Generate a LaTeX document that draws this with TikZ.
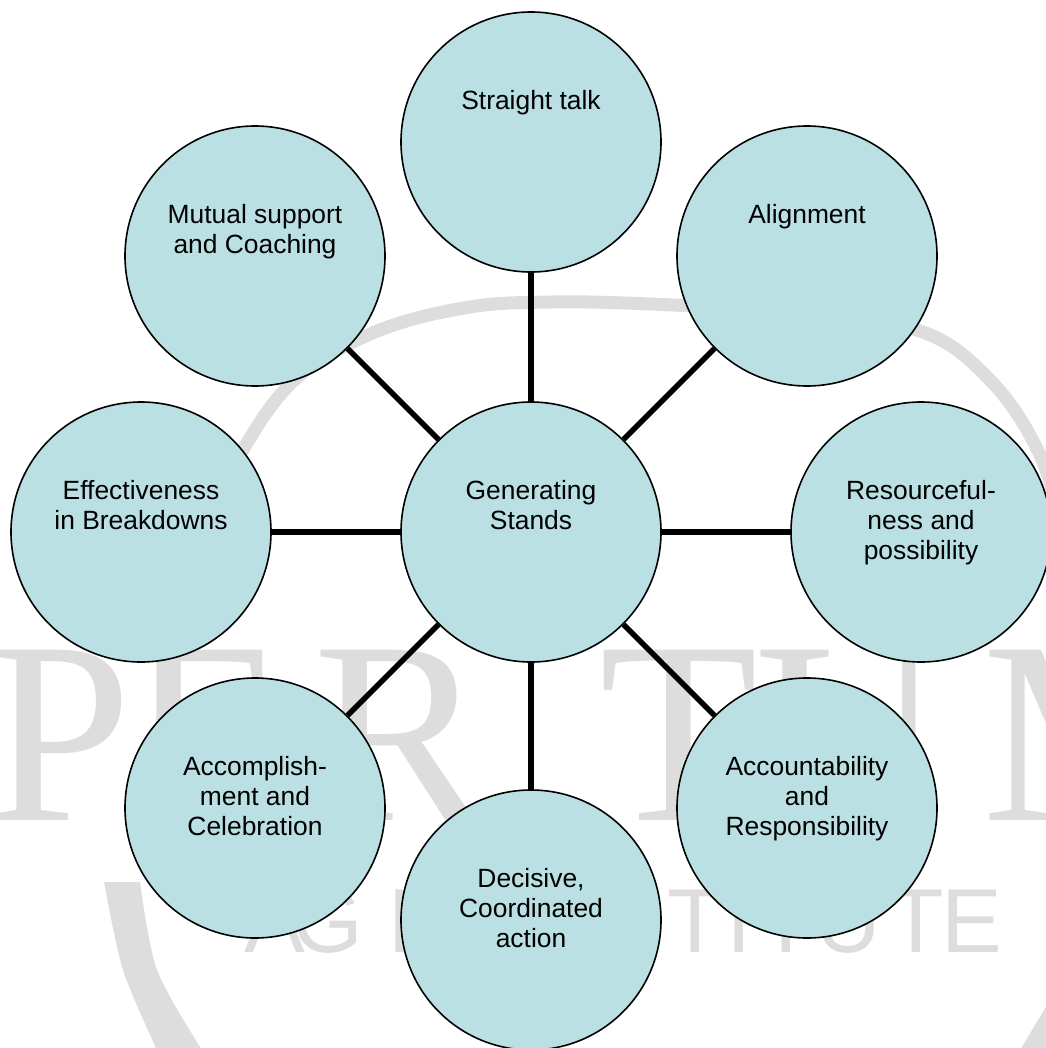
\documentclass[tikz,border=0pt]{standalone}
\usepackage{fontspec}
\setmainfont{Liberation Sans}
\newfontfamily\wmserif{Liberation Serif}
\definecolor{bubblefill}{RGB}{187,224,227}
\definecolor{wmgray}{RGB}{221,221,221}
\begin{document}
\begin{tikzpicture}[x=0.5pt,y=-0.5pt,
  bubble/.style={circle,draw=black,line width=0.8pt,fill=bubblefill,
    minimum size=130pt,inner sep=0pt},
  caption/.style={anchor=north,inner sep=0pt,align=center,
    font=\fontsize{13.2pt}{15pt}\selectfont},
  link/.style={line width=2.7pt,draw=black},
  bigletter/.style={anchor=base west,inner sep=0pt,text=wmgray,
    font=\wmserif\fontsize{130pt}{130pt}\selectfont},
  smallletter/.style={anchor=base,inner sep=0pt,text=wmgray,
    font=\fontsize{45.5pt}{46pt}\selectfont}]
\useasboundingbox (0,0) rectangle (1045,1048);

% faint background logo
\draw[wmgray,line width=6.5pt] plot[smooth,tension=0.6] coordinates
  {(200,540) (247,443) (300,375) (380,330) (470,307) (553,302) (650,304)
   (780,312) (917,330) (990,380) (1040,455) (1065,540)};
\fill[wmgray] plot[smooth] coordinates {(104,882) (123,970) (157,1050)}
  -- plot[smooth] coordinates {(202,1050) (157,970) (140,882)} -- cycle;
\fill[wmgray] (1020,1050) -- (1047,1005) -- (1060,1005) -- (1060,1050) -- cycle;
\foreach \l/\x [count=\i] in {P/-13,E/127,R/313,T/599,U/755,M/982}
  \node[bigletter] (big\i) at (\x,820) {\l};
\foreach \l/\x [count=\i] in {A/275,G/328,I/400,T/695,I/739,T/786,U/848,T/916,E/972}
  \node[smallletter] (small\i) at (\x,952) {\l};

% circles
\node[bubble] (c)  at (531,532) {};
\node[bubble] (n)  at (531,142) {};
\node[bubble] (ne) at (807,256) {};
\node[bubble] (e)  at (921,532) {};
\node[bubble] (se) at (807,808) {};
\node[bubble] (s)  at (531,920) {};
\node[bubble] (sw) at (255,808) {};
\node[bubble] (w)  at (141,532) {};
\node[bubble] (nw) at (255,256) {};

% spokes
\foreach \t in {n,ne,e,se,s,sw,w,nw}
  \draw[link] (c) -- (\t);

% labels, hung from the upper part of each circle
\node[caption] (ct)  at ([yshift=26pt]c.center)  {Generating\\Stands};
\node[caption] (nt)  at ([yshift=26pt]n.center)  {Straight talk};
\node[caption] (net) at ([yshift=26pt]ne.center) {Alignment};
\node[caption] (et)  at ([yshift=26pt]e.center)  {Resourceful-\\ness and\\possibility};
\node[caption] (set) at ([yshift=26pt]se.center) {Accountability\\and\\Responsibility};
\node[caption] (st)  at ([yshift=26pt]s.center)  {Decisive,\\Coordinated\\action};
\node[caption] (swt) at ([yshift=26pt]sw.center) {Accomplish-\\ment and\\Celebration};
\node[caption] (wt)  at ([yshift=26pt]w.center)  {Effectiveness\\in Breakdowns};
\node[caption] (nwt) at ([yshift=26pt]nw.center) {Mutual support\\and Coaching};
\end{tikzpicture}
\end{document}
